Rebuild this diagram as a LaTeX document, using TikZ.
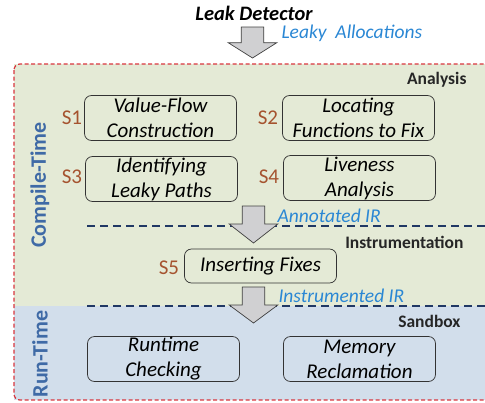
\documentclass[tikz,border=0pt]{standalone}
\usepackage{fontspec}
\setmainfont{Carlito}
\usetikzlibrary{shapes}

\definecolor{stagegreen}{HTML}{E4EAD6}
\definecolor{stageblue}{HTML}{D2DEEB}
\definecolor{framered}{HTML}{D9363E}
\definecolor{linenavy}{HTML}{203864}
\definecolor{notblue}{HTML}{2A87D4}
\definecolor{timeblue}{HTML}{3F6AA6}
\definecolor{stepbrown}{HTML}{A5532F}
\definecolor{arrowgray}{HTML}{D0D0D2}

% block arrow pointing down: top centre, shaft length, head length
\newcommand{\blockdown}[3]{%
  \draw[fatarrow] #1 ++(-11.3,0) -- ++(22.6,0) -- ++(0,#2) -- ++(13,0)
    -- ++(-24.3,#3) -- ++(-24.3,-#3) -- ++(13,0) -- cycle;}

\begin{document}
\begin{tikzpicture}[x=1pt, y=-1pt,
    task/.style={draw=black!80, line width=0.7pt, rounded corners=7pt,
      minimum width=152pt, minimum height=45pt, align=center,
      inner sep=0pt, font=\fontsize{21}{25}\selectfont\itshape},
    steplabel/.style={text=stepbrown, font=\fontsize{21}{22}\selectfont},
    phase/.style={font=\fontsize{17.5}{18}\selectfont\bfseries, text=black!85},
    note/.style={anchor=west, text=notblue, font=\fontsize{19.5}{20}\selectfont\itshape},
    timelabel/.style={rotate=90, text=timeblue, font=\fontsize{22}{24}\selectfont\bfseries},
    fatarrow/.style={fill=arrowgray, draw=black!75, line width=0.7pt},
    divider/.style={draw=linenavy, line width=1.4pt, dash pattern=on 8pt off 5pt}]

  \useasboundingbox (0,0) rectangle (485,402);
  \clip (0,0) rectangle (485,402);

  % stage backgrounds and frame
  \fill[stagegreen] (14,64) rectangle (490,306);
  \fill[stageblue] (14,306) rectangle (490,400);
  \draw[framered, line width=1.2pt, dash pattern=on 4pt off 2.5pt, rounded corners=6pt]
    (14,64) rectangle (495,400);

  \draw[divider] (87,226) -- (485,226);
  \draw[divider] (87,306) -- (485,306);

  \node (detector) at (254,13) [font=\fontsize{20.5}{22}\selectfont\bfseries\itshape] {Leak Detector};

  \node (analysis) at (470,80) [phase, anchor=east] {Analysis};
  \node (instr) at (467,242) [phase, anchor=east] {Instrumentation};
  \node (sandbox) at (464,321) [phase, anchor=east] {Sandbox};

  \node (compile) at (40,185) [timelabel] {Compile-Time};
  \node (run) at (40,354) [timelabel] {Run-Time};

  \node (valueflow) at (160.5,118) [task] {Value-Flow\\Construction};
  \node (locating) at (358.5,118) [task] {Locating\\Functions to Fix};
  \node (leakypaths) at (161.5,179) [task] {Identifying\\Leaky Paths};
  \node (liveness) at (359.5,178) [task] {Liveness\\Analysis};
  \node (fixes) at (260.5,266) [task, minimum height=34pt] {Inserting Fixes};
  \node (checking) at (163.5,359) [task] {Runtime\\Checking};
  \node (reclaim) at (359.5,359) [task] {Memory\\Reclamation};

  \node (s1) at (72,118) [steplabel] {S1};
  \node (s2) at (268,118) [steplabel] {S2};
  \node (s3) at (72,177) [steplabel] {S3};
  \node (s4) at (269,177) [steplabel] {S4};
  \node (s5) at (169,268) [steplabel] {S5};

  % arrows between the stages
  \coordinate (in1) at (252.5,27);
  \coordinate (in2) at (253.5,206);
  \coordinate (in3) at (253.5,287);
  \blockdown{(in1)}{15.7}{15.3}
  \blockdown{(in2)}{18}{19}
  \blockdown{(in3)}{18}{18}

  \node (leaky) at (278,33) [note] {Leaky\ \ Allocations};
  \node (annot) at (274,216) [note] {Annotated IR};
  \node (instrir) at (275,296) [note] {Instrumented IR};
\end{tikzpicture}
\end{document}
